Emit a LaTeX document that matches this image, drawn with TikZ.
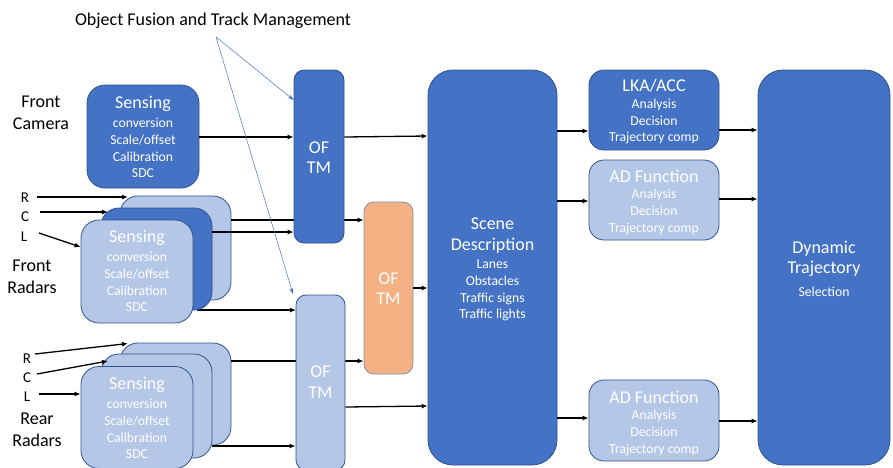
\documentclass[tikz,border=0pt]{standalone}
\usepackage{fontspec}
\setmainfont{Carlito}
\usetikzlibrary{arrows.meta}
\definecolor{dk}{HTML}{4472C4}
\definecolor{lt}{HTML}{B4C7E7}
\definecolor{bd}{HTML}{2F528F}
\definecolor{org}{HTML}{F4B183}
\definecolor{orgbd}{HTML}{7F8FB0}
\definecolor{thinblue}{HTML}{4472C4}
\tikzset{
  box/.style={draw=bd, line width=0.8pt, inner sep=0pt},
  dkbox/.style={box, fill=dk},
  ltbox/.style={box, fill=lt},
  orbox/.style={box, draw=orgbd, fill=org},
  big/.style={text=white, align=center, font=\fontsize{18}{20.5}\selectfont},
  small/.style={text=white, align=center, font=\fontsize{13.7}{16.8}\selectfont},
  lbl/.style={text=black, align=center, font=\fontsize{18}{22}\selectfont},
  rcl/.style={text=black, font=\fontsize{15}{16}\selectfont},
  arr/.style={line width=1.3pt, -{Latex[length=6pt,width=5pt]}},
  thinarr/.style={thinblue, line width=0.5pt, -{Stealth[length=6pt,width=4pt]}}
}
\begin{document}
\begin{tikzpicture}[x=1pt,y=-1pt]
\useasboundingbox (0,0) rectangle (893,467);
% title
\node[text=black, font=\fontsize{18}{20}\selectfont] (title) at (213,21) {Object Fusion and Track Management};
\coordinate (tp) at (216,37);
% labels
\node[lbl] (lcam) at (41,113) {Front\\Camera};
\node[lbl] (lfr) at (32,277) {Front\\Radars};
\node[lbl] (lrr) at (37,430) {Rear\\Radars};
\node[rcl] (fR) at (25,198) {R};
\node[rcl] (fC) at (25,217) {C};
\node[rcl] (fL) at (24,237) {L};
\node[rcl] (rR) at (27,359) {R};
\node[rcl] (rC) at (27,378) {C};
\node[rcl] (rL) at (27,397) {L};
\coordinate (fRs) at (37,197);
\coordinate (fCs) at (40,212);
\coordinate (fLs) at (39,233);
\coordinate (rRs) at (35,354);
\coordinate (rCs) at (37,374);
\coordinate (rLs) at (39,394);

% camera sensing
\node[dkbox, rounded corners=18pt, minimum width=112pt, minimum height=103pt] (cam) at (143,136.5) {};
\node[big] (camt) at (143,104) {Sensing};
\node[small] (cams) at (143,148) {conversion\\Scale/offset\\Calibration\\SDC};

% lines passing behind OF TM boxes
\node[ltbox, rounded corners=18pt, minimum width=111pt, minimum height=104pt] (frb) at (175.5,248) {};
\node[ltbox, rounded corners=18pt, minimum width=111pt, minimum height=102pt] (rrb) at (175.5,394) {};
\node[orbox, rounded corners=10pt, minimum width=49pt, minimum height=172pt] (org) at (388.5,288) {};
\draw[arr] (frb.east |- 0,220) -- (org.west |- 0,220);
\draw[arr] (rrb.east |- 0,361) -- (org.west |- 0,361);
\draw[arr] (197,310) -- (296,310);

% front radar stack
\node[dkbox, rounded corners=18pt, minimum width=111pt, minimum height=102pt] (frm) at (156.5,259) {};
\node[ltbox, rounded corners=18pt, minimum width=112pt, minimum height=103pt] (frf) at (137,271.5) {};
\node[big] (frft) at (137,238) {Sensing};
\node[small] (frfs) at (137,282) {conversion\\Scale/offset\\Calibration\\SDC};

% rear radar stack
\node[ltbox, rounded corners=18pt, minimum width=111pt, minimum height=104pt] (rrm) at (156.5,406) {};
\node[ltbox, rounded corners=18pt, minimum width=112pt, minimum height=102pt] (rrf) at (137,417.5) {};
\node[big] (rrft) at (137,385) {Sensing};
\node[small] (rrfs) at (137,429) {conversion\\Scale/offset\\Calibration\\SDC};

% OF TM
\node[dkbox, rounded corners=10pt, minimum width=50pt, minimum height=173pt] (of1) at (319,156.5) {};
\node[big] (of1t) at (319,157.5) {OF\\TM};
\node[ltbox, rounded corners=10pt, minimum width=49pt, minimum height=175pt] (of2) at (320.5,382.5) {};
\node[big] (of2t) at (320.5,382) {OF\\TM};
\node[big] (orgt) at (388.5,288.5) {OF\\TM};

% scene
\node[dkbox, rounded corners=25pt, minimum width=129pt, minimum height=395pt] (scene) at (492.5,267.5) {};
\node[big] (scenet) at (492.5,235.5) {Scene\\Description};
\node[small] (scenes) at (492.5,290.5) {Lanes\\Obstacles\\Traffic signs\\Traffic lights};

% functions
\node[dkbox, rounded corners=15pt, minimum width=130pt, minimum height=80pt] (lka) at (654,110) {};
\node[big] (lkat) at (654,86) {LKA/ACC};
\node[small] (lkas) at (654,121.5) {Analysis\\Decision\\Trajectory comp};
\node[ltbox, rounded corners=15pt, minimum width=130pt, minimum height=80pt] (ad1) at (654,200) {};
\node[big] (ad1t) at (654,176) {AD Function};
\node[small] (ad1s) at (654,212) {Analysis\\Decision\\Trajectory comp};
\node[ltbox, rounded corners=15pt, minimum width=130pt, minimum height=81pt] (ad2) at (654,420.5) {};
\node[big] (ad2t) at (654,397) {AD Function};
\node[small] (ad2s) at (654,433) {Analysis\\Decision\\Trajectory comp};

% dynamic
\node[dkbox, rounded corners=25pt, minimum width=132pt, minimum height=395pt] (dyn) at (824,267.5) {};
\node[big] (dynt) at (824,259) {Dynamic\\Trajectory};
\node[small] (dyns) at (824,292) {Selection};

% arrows
\draw[arr] (fRs) -- (128,197);
\draw[arr] (fCs) -- (108,212);
\draw[arr] (fLs) -- (frf.west |- 0,247);
\draw[arr] (rRs) -- (128,343.5);
\draw[arr] (rCs) -- (108,361);
\draw[arr] (rLs) -- (rrf.west |- 0,394);

\draw[arr] (cam.east |- 0,137) -- (of1.west |- 0,137);
\draw[arr] (of1.east |- 0,137) -- (scene.west |- 0,136);
\draw[arr] (frm.east |- 0,232) -- (of1.west |- 0,232);
\draw[arr] (rrm.east |- 0,446) -- (of2.west |- 0,446);
\draw[arr] (of2.east |- 0,407) -- (scene.west |- 0,406);
\draw[arr] (org.east) -- (org.east -| scene.west);
\draw[arr] (scene.east |- 0,131) -- (lka.west |- 0,131);
\draw[arr] (scene.east |- 0,201) -- (ad1.west |- 0,201);
\draw[arr] (scene.east |- 0,418) -- (ad2.west |- 0,418);
\draw[arr] (lka.east |- 0,130) -- (dyn.west |- 0,130);
\draw[arr] (ad1.east |- 0,199) -- (dyn.west |- 0,199);
\draw[arr] (ad2.east |- 0,421) -- (dyn.west |- 0,421);

\draw[thinarr] (tp) -- (of1.west |- 0,100);
\draw[thinarr] (tp) -- (293,294);
\end{tikzpicture}
\end{document}
